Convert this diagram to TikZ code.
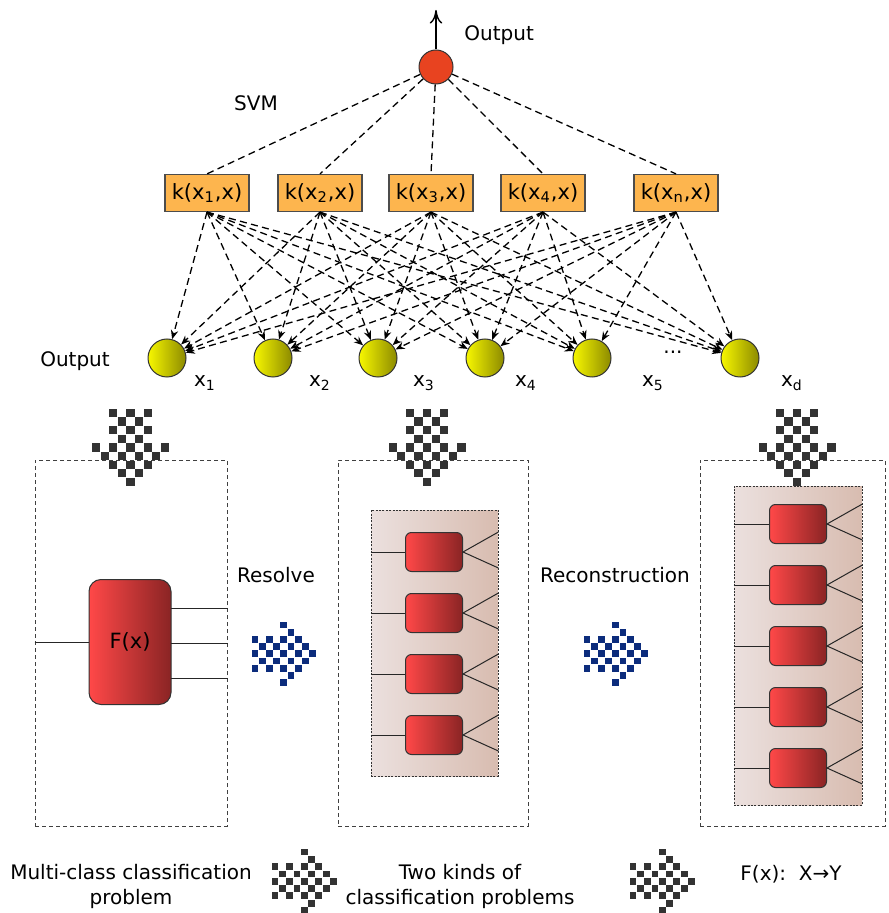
\documentclass[tikz,border=0pt]{standalone}
\usepackage{fontspec}
\setmainfont{DejaVu Sans}
\usepackage{tikz}
\usetikzlibrary{arrows.meta,calc}
\definecolor{kern}{HTML}{FDB54E}
\definecolor{outc}{HTML}{E84320}
\definecolor{redL}{HTML}{FF4848}
\definecolor{redR}{HTML}{8A2424}
\definecolor{yelL}{HTML}{F7F700}
\definecolor{yelR}{HTML}{8C8A00}
\definecolor{pinkL}{HTML}{EBE0DE}
\definecolor{pinkR}{HTML}{D8BCB0}
\definecolor{chk}{HTML}{333333}
\definecolor{navy}{HTML}{0C2C7C}
% checker arrow: #1 origin, #2 pitch, #3 half size, #4 colour, #5 d (down) or r (right)
\newcommand{\chkarrow}[5]{%
  \foreach \a in {0,...,8}{\foreach \b in {0,...,8}{%
    \pgfmathtruncatemacro{\on}{(mod(\a+\b,2)==0)&&((\a<4&&abs(\b-4)<=2)||(\a>3&&abs(\b-4)<=8-\a))}%
    \ifnum\on=1
      \if#5d\fill[#4] ($(#1)+(\b*#2,\a*#2)$) +(-#3,-#3) rectangle +(#3,#3);%
      \else\fill[#4] ($(#1)+(\a*#2,\b*#2)$) +(-#3,-#3) rectangle +(#3,#3);\fi
    \fi}}}
\tikzset{
  kbox/.style={rectangle, draw=black!70, line width=0.6pt, fill=kern, minimum width=42pt,
               minimum height=18.5pt, inner sep=1pt, font=\fontsize{10.5}{12}\selectfont},
  inp/.style={circle, draw=black!80, line width=0.5pt, left color=yelL, right color=yelR,
              minimum size=19pt, inner sep=0pt},
  outn/.style={circle, draw=black!80, line width=0.5pt, fill=outc, minimum size=17pt, inner sep=0pt},
  redbox/.style={rectangle, rounded corners=3pt, draw=black!80, line width=0.5pt,
                 left color=redL, right color=redR, minimum width=28.5pt, minimum height=19.5pt, inner sep=0pt},
  panel/.style={rectangle, draw=black!75, line width=0.5pt, dash pattern=on 2pt off 1.5pt, inner sep=0pt},
  grp/.style={rectangle, draw=black!80, line width=0.4pt, dash pattern=on 1pt off 0.7pt,
              left color=pinkL, right color=pinkR, inner sep=0pt},
  net/.style={line width=0.65pt, dash pattern=on 3.5pt off 2.2pt},
  wire/.style={line width=0.5pt, draw=black!85},
  lbl/.style={font=\fontsize{10}{12.5}\selectfont, inner sep=1pt},
}
\begin{document}
\begin{tikzpicture}[x=0.5pt, y=-0.5pt]
  \useasboundingbox (0,0) rectangle (888,913);
  % SVM network
  \node[outn] (out) at (436,67) {};
  \coordinate (otop) at (436,10);
  \draw[-{To[length=2.4mm,width=2.2mm]}, line width=0.7pt] (out) -- (otop);
  \node[lbl, anchor=west] (outlbl) at (462,35) {Output};
  \node[lbl] (svm) at (256,103) {SVM};
  \foreach \i/\px/\s in {1/207/1, 2/320/2, 3/431/3, 4/543/4, 5/676/n}
    \node[kbox] (k\i) at (\px,193) {k(x\textsubscript{\s},x)};
  \foreach \i/\px in {1/167, 2/273, 3/378, 4/485, 5/592, 6/740}
    \node[inp] (in\i) at (\px,358) {};
  \foreach \i in {1,...,5}{
    \draw[net] (out) -- (k\i.north);
    \foreach \j in {1,...,6}
      \draw[net, -{Stealth[length=1.6mm,width=1.3mm]}] (k\i.south) -- (in\j);
  }
  \node[lbl] (inlbl) at (75,361) {Output};
  \foreach \i/\px/\s in {1/205/1, 2/320/2, 3/424/3, 4/526/4, 5/653/5, 6/792/d}
    \node[lbl] (s\i) at (\px,383) {x\textsubscript{\s}};
  \node[lbl] (dots) at (673,352) {...};

  % panels
  \node[panel, minimum width=96pt, minimum height=183pt] (p1) at (131,643) {};
  \node[panel, minimum width=95pt, minimum height=183pt] (p2) at (433,643) {};
  \node[panel, minimum width=92.5pt, minimum height=183pt] (p3) at (792.5,643) {};

  % multi-class classifier
  \node[redbox, rounded corners=6pt, minimum width=41pt, minimum height=62.5pt,
        font=\fontsize{10.5}{12}\selectfont] (fx) at (130,642) {F(x)};
  \draw[wire] (p1.west |- fx) -- (fx.west);
  \coordinate (f1) at (171,608);
  \coordinate (f2) at (171,643);
  \coordinate (f3) at (171,678);
  \foreach \c in {f1,f2,f3}
    \draw[wire] (\c) -- (\c -| p1.east);

  % two kinds of classifiers
  \node[grp, minimum width=63.5pt, minimum height=133pt] (g2) at (434.5,643) {};
  \foreach \i/\py in {1/552, 2/613, 3/674, 4/735}{
    \node[redbox] (r2\i) at (434,\py) {};
    \draw[wire] (g2.west |- r2\i) -- (r2\i.west);
    \draw[wire] (g2.east |- r2\i.north) -- (r2\i.east) -- ($(g2.east |- r2\i.south)+(0,-4)$);
  }
  \node[grp, minimum width=64pt, minimum height=159.5pt] (g3) at (798,645.5) {};
  \foreach \i/\py in {1/524, 2/585, 3/646, 4/707, 5/768}{
    \node[redbox] (r3\i) at (798,\py) {};
    \draw[wire] (g3.west |- r3\i) -- (r3\i.west);
    \draw[wire] (g3.east |- r3\i.north) -- (r3\i.east) -- ($(g3.east |- r3\i.south)+(0,-4)$);
  }

  % checker arrows
  \chkarrow{96,413}{8.6}{4.1}{chk}{d}
  \chkarrow{392.6,413}{8.6}{4.1}{chk}{d}
  \chkarrow{762.6,413}{8.6}{4.1}{chk}{d}
  \chkarrow{255,625}{7.2}{3.4}{navy}{r}
  \chkarrow{587,625}{7.2}{3.4}{navy}{r}
  \chkarrow{275,852}{7.3}{3.4}{chk}{r}
  \chkarrow{633,852}{7.3}{3.4}{chk}{r}
  \node[lbl] (res) at (276,575) {Resolve};
  \node[lbl] (rec) at (615,575) {Reconstruction};

  % legend
  \node[lbl, align=center] (leg1) at (131,886) {Multi-class classification\\problem};
  \node[lbl, align=center] (leg2) at (460,886) {Two kinds of\\classification problems};
  \node[lbl] (leg3) at (791,874) {F(x):\ \ X→Y};
\end{tikzpicture}
\end{document}
